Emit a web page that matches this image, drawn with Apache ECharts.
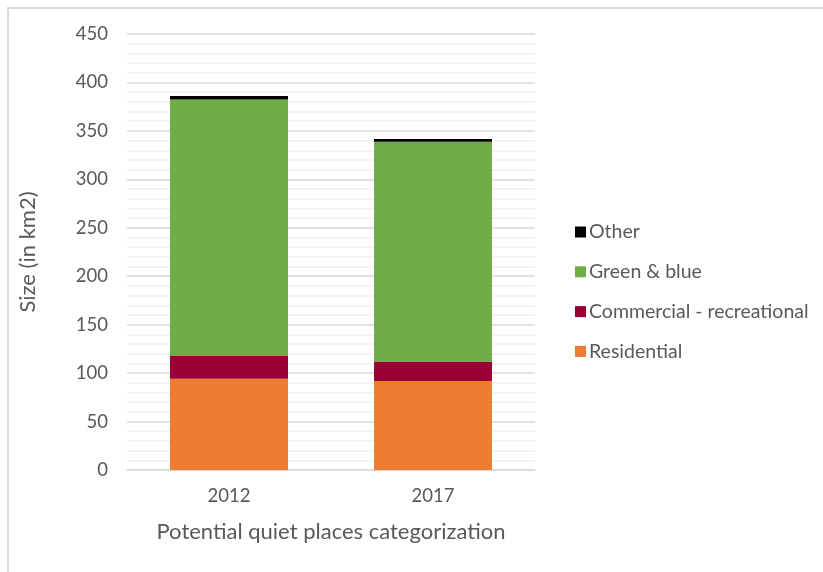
<!DOCTYPE html>
<html>
<head>
<meta charset="utf-8">
<script src="https://cdn.jsdelivr.net/npm/echarts@6/dist/echarts.min.js"></script>
<style>
  html, body { margin: 0; padding: 0; background: #fff; }
  #chart { width: 823px; height: 572px; }
</style>
</head>
<body>
<div id="chart"></div>
<script>
// Potential quiet places by land-use category, km2
const years = ['2012', '2017'];
const residential = [94.3, 91.8];
const commercial = [23.4, 20.1];
const greenBlue = [264.8, 226.8];
const other = [3.5, 2.8];
const yTicks = [0, 50, 100, 150, 200, 250, 300, 350, 400, 450];

const FONT = 'Lato';
const TEXT = '#595959';

const chart = echarts.init(document.getElementById('chart'), null, { renderer: 'canvas' });

function bar(name, data, color) {
  return {
    name: name,
    type: 'bar',
    stack: 'total',
    data: data,
    barWidth: 118,
    itemStyle: { color: color },
    emphasis: { disabled: true }
  };
}

chart.setOption({
  animation: false,
  backgroundColor: '#ffffff',
  graphic: [{
    type: 'rect',
    shape: { x: 8, y: 8, width: 900, height: 700 },
    style: { fill: 'none', stroke: '#d9d9d9', lineWidth: 2 },
    silent: true
  }],
  grid: { left: 127, right: 288, top: 34, bottom: 102 },
  legend: {
    orient: 'vertical',
    left: 570,
    top: 217,
    itemWidth: 11,
    itemHeight: 11,
    itemGap: 19.8,
    icon: 'rect',
    data: ['Other', 'Green & blue', 'Commercial - recreational', 'Residential'],
    textStyle: { fontFamily: FONT, fontSize: 19.5, color: TEXT, padding: [0, 0, 0, -2] }
  },
  xAxis: {
    type: 'category',
    data: years,
    name: 'Potential quiet places categorization',
    nameLocation: 'middle',
    nameGap: 51,
    nameTextStyle: { fontFamily: FONT, fontSize: 22, color: TEXT },
    axisLine: { lineStyle: { color: '#d9d9d9', width: 1.5 } },
    axisTick: { show: false },
    axisLabel: { fontFamily: FONT, fontSize: 18.5, color: TEXT, margin: 17 }
  },
  yAxis: {
    type: 'value',
    min: yTicks[0],
    max: yTicks[yTicks.length - 1],
    interval: 50,
    name: 'Size (in km2)',
    nameLocation: 'middle',
    nameGap: 88,
    nameRotate: 90,
    nameTextStyle: { fontFamily: FONT, fontSize: 22, color: TEXT },
    axisLine: { show: false },
    axisTick: { show: false },
    axisLabel: { fontFamily: FONT, fontSize: 18.5, color: TEXT, margin: 19 },
    splitLine: { lineStyle: { color: '#d9d9d9', width: 1.5 } },
    minorTick: { show: false, splitNumber: 5 },
    minorSplitLine: { show: true, lineStyle: { color: '#efefef', width: 1.5 } }
  },
  series: [
    bar('Residential', residential, '#ed7d31'),
    bar('Commercial - recreational', commercial, '#990033'),
    bar('Green & blue', greenBlue, '#70ad47'),
    bar('Other', other, '#000000')
  ]
});
</script>
</body>
</html>
